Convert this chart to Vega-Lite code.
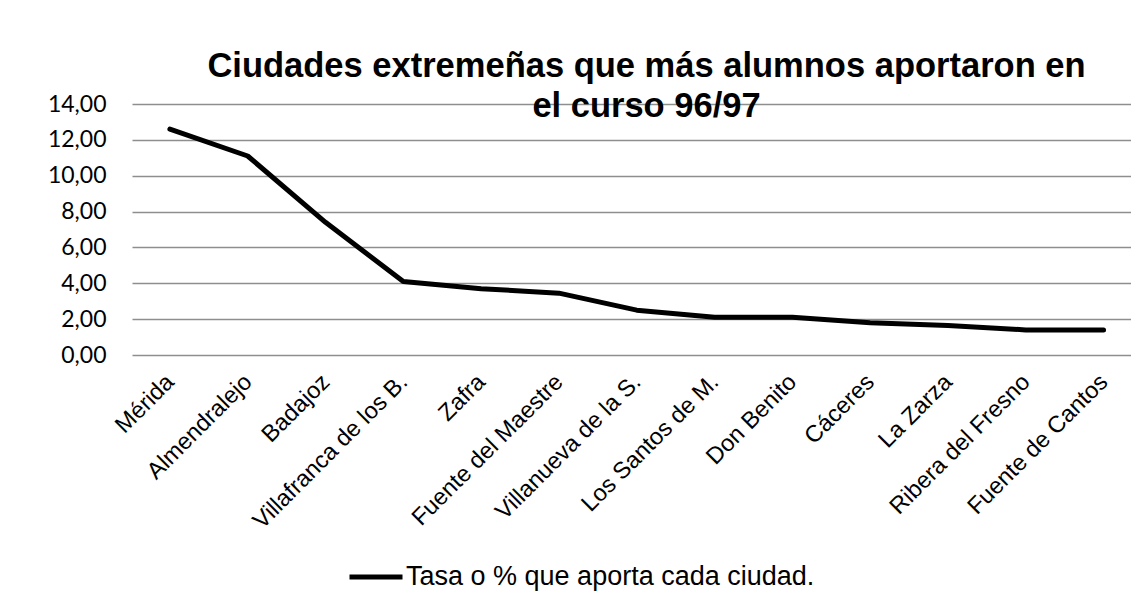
{
  "$schema": "https://vega.github.io/schema/vega-lite/v6.json",
  "autosize": "none",
  "width": 999,
  "height": 251,
  "padding": {"left": 132, "top": 104, "right": 0, "bottom": 250},
  "background": "white",
  "config": {
    "locale": {"number": {"decimal": ",", "thousands": ".", "grouping": [3], "currency": ["", " €"]}},
    "view": {"stroke": null}
  },
  "title": {
    "text": ["Ciudades extremeñas que más alumnos aportaron en", "el curso 96/97"],
    "font": "Liberation Sans",
    "fontSize": 34.5,
    "fontWeight": "bold",
    "color": "#000000",
    "lineHeight": 40,
    "anchor": "middle",
    "dx": 15,
    "offset": -31
  },
  "data": {
    "values": [
      {"ciudad": "Mérida", "tasa": 12.6, "serie": "Tasa o % que aporta cada ciudad."},
      {"ciudad": "Almendralejo", "tasa": 11.1, "serie": "Tasa o % que aporta cada ciudad."},
      {"ciudad": "Badajoz", "tasa": 7.4, "serie": "Tasa o % que aporta cada ciudad."},
      {"ciudad": "Villafranca de los B.", "tasa": 4.1, "serie": "Tasa o % que aporta cada ciudad."},
      {"ciudad": "Zafra", "tasa": 3.7, "serie": "Tasa o % que aporta cada ciudad."},
      {"ciudad": "Fuente del Maestre", "tasa": 3.45, "serie": "Tasa o % que aporta cada ciudad."},
      {"ciudad": "Villanueva de la S.", "tasa": 2.5, "serie": "Tasa o % que aporta cada ciudad."},
      {"ciudad": "Los Santos de M.", "tasa": 2.1, "serie": "Tasa o % que aporta cada ciudad."},
      {"ciudad": "Don Benito", "tasa": 2.1, "serie": "Tasa o % que aporta cada ciudad."},
      {"ciudad": "Cáceres", "tasa": 1.8, "serie": "Tasa o % que aporta cada ciudad."},
      {"ciudad": "La Zarza", "tasa": 1.65, "serie": "Tasa o % que aporta cada ciudad."},
      {"ciudad": "Ribera del Fresno", "tasa": 1.4, "serie": "Tasa o % que aporta cada ciudad."},
      {"ciudad": "Fuente de Cantos", "tasa": 1.4, "serie": "Tasa o % que aporta cada ciudad."}
    ]
  },
  "mark": {"type": "line", "strokeWidth": 5, "strokeCap": "round", "strokeJoin": "round"},
  "encoding": {
    "x": {
      "field": "ciudad",
      "type": "nominal",
      "sort": null,
      "scale": {"type": "point", "padding": 0.42, "align": 0.58},
      "axis": {
        "title": null,
        "domain": false,
        "ticks": false,
        "tickSize": 0,
        "grid": false,
        "labelAngle": -45,
        "labelAlign": "right",
        "labelBaseline": "middle",
        "labelPadding": 23,
        "labelFont": "Liberation Sans",
        "labelFontSize": 23.5,
        "labelColor": "#000000",
        "labelOverlap": false,
        "labelLimit": 0
      }
    },
    "y": {
      "field": "tasa",
      "type": "quantitative",
      "scale": {"domain": [0, 14], "nice": false, "zero": true},
      "axis": {
        "title": null,
        "values": [0, 2, 4, 6, 8, 10, 12, 14],
        "format": ".2f",
        "domain": false,
        "ticks": false,
        "tickSize": 0,
        "grid": true,
        "gridColor": "#8e8e8e",
        "gridWidth": 1.5,
        "labelPadding": 26,
        "labelFont": "Lato",
        "labelFontSize": 23,
        "labelColor": "#000000",
        "labelBaseline": "middle"
      }
    },
    "color": {
      "field": "serie",
      "type": "nominal",
      "scale": {"range": ["#000000"]},
      "legend": {
        "title": null,
        "orient": "none",
        "legendX": 215,
        "legendY": 444,
        "direction": "horizontal",
        "symbolType": "stroke",
        "symbolSize": 2809,
        "symbolStrokeWidth": 5,
        "labelFont": "Liberation Sans",
        "labelFontSize": 27,
        "labelColor": "#000000",
        "labelOffset": 1,
        "labelLimit": 0
      }
    }
  }
}
